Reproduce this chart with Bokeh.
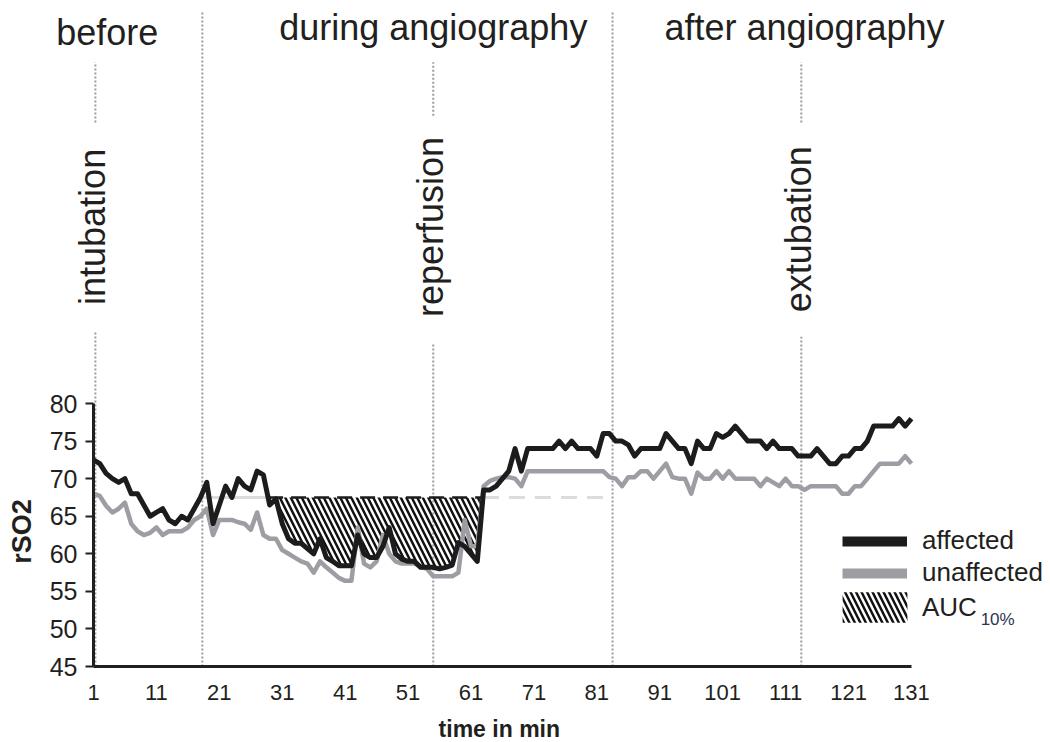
import numpy as np
from bokeh.plotting import figure
from bokeh.models import (Range1d, FixedTicker, ColumnDataSource, Label,
                          Legend, LegendItem)
from bokeh.embed import file_html
from bokeh.resources import INLINE

# ---------------- data ----------------
minutes = list(range(1, 132))
affected = [
    72.5, 72, 70.7, 70, 69.5, 70, 68, 68, 66.5, 65,
    65.5, 66, 64.5, 64, 65, 64.5, 66, 67.5, 69.5, 64,
    66.5, 69, 67.5, 70, 69, 68.5, 71, 70.5, 66.5, 67.3,
    64, 62, 61.4, 61.4, 60.7, 60, 62, 59.5, 59, 58.4,
    58.4, 58.4, 62.5, 60, 59.5, 59.5, 61, 63.5, 60, 59.3,
    59, 59, 58.2, 58.2, 58.2, 58, 58.2, 58.5, 61.5, 61,
    60, 59, 68.5, 68.5, 69, 70, 71, 74, 71, 74,
    74, 74, 74, 74, 75, 74, 75, 74, 74, 74,
    73, 76, 76, 75, 75, 74.5, 73, 74, 74, 74,
    74, 76, 75, 74, 74, 72, 75, 74, 74, 76,
    75.5, 76, 77, 76, 75, 75, 75, 74, 75, 74,
    74, 74, 73, 73, 73, 74, 73, 72, 72, 73,
    73, 74, 74, 75, 77, 77, 77, 77, 78, 77, 78,
]
unaffected = [
    68, 67.7, 66.4, 65.5, 66, 66.8, 64, 63, 62.5, 62.8,
    63.5, 62.5, 63, 63, 63, 63.5, 64.5, 65, 66, 62.5,
    64.5, 64.5, 64.5, 64.2, 64, 63.2, 65.5, 62.5, 62, 62,
    60.5, 60, 59.5, 59, 58.7, 57.5, 59, 58.2, 57.5, 56.8,
    56.4, 56.4, 63.5, 58.7, 58.2, 59, 62.5, 60, 59, 58.7,
    58.7, 58.7, 58.3, 58, 57, 57, 57, 57, 57.5, 64.5,
    61, 61, 69, 69.7, 70, 70.2, 70.2, 70, 69, 71,
    71, 71, 71, 71, 71, 71, 71, 71, 71, 71,
    71, 71, 70.2, 70, 69, 70.2, 70.2, 71, 71, 70,
    71, 72, 70.2, 70, 70, 68, 70.8, 70, 70, 71,
    70, 71, 70, 70, 70, 70, 69, 70, 69.5, 69,
    70, 69, 69, 68.5, 69, 69, 69, 69, 69, 68,
    68, 69, 69, 70, 71, 72, 72, 72, 72, 73, 72,
]
baseline = 67.5                 # AUC10% threshold
baseline_start, baseline_end = 18.3, 83.5
auc_window = (28, 63)
phase_bounds = [18.3, 83.5]
phase_labels = ["before", "during angiography", "after angiography"]
phase_label_x = [3.2, 55.0, 114.0]
phase_label_y = [129.4, 130.1, 130.1]
event_labels = ["intubation", "reperfusion", "extubation"]
event_x = [1.3, 55.0, 113.5]
event_label_y = [103.5, 103.5, 103.2]
event_lower_end = [89.7, 88.1, 88.9]
event_upper_start = [117.4, 118.3, 117.4]
event_upper_end = 125.4
x_ticks = list(range(1, 132, 10))
y_ticks = list(range(45, 81, 5))
x_title, y_title = "time in min", "rSO2"
legend_labels = ["affected", "unaffected", "AUC", "10%"]

BLACK = "#1c1c1c"
GRAY = "#9c9ea3"
LIGHT = "#dcdcdc"
DOT = "#9a9ca2"
TXT = "#231f20"
FONT = "Liberation Sans"

# hatched area between affected curve and threshold
hx, hy = [], []
for i in range(len(minutes) - 1):
    x0, x1 = minutes[i], minutes[i + 1]
    y0, y1 = affected[i], affected[i + 1]
    if x1 < auc_window[0] or x0 > auc_window[1]:
        continue
    hx.append(x0); hy.append(min(y0, baseline))
    if (y0 - baseline) * (y1 - baseline) < 0:
        t = (baseline - y0) / (y1 - y0)
        hx.append(x0 + t * (x1 - x0)); hy.append(baseline)
hx.append(minutes[auc_window[1] - 1]); hy.append(min(affected[auc_window[1] - 1], baseline))
cross = [x for x, y in zip(hx, hy) if y == baseline and x != int(x)]
auc_start, auc_end = cross[0], cross[-1]

# ---------------- figure ----------------
# the frame covers the whole canvas; axes are pinned at x=1 / y=45
W, H = 1050, 742
p = figure(width=W, height=H, x_range=Range1d(-13.78, 153.1), y_range=Range1d(34.89, 133.63),
           output_backend="svg", toolbar_location=None,
           min_border_left=0, min_border_right=0, min_border_top=0, min_border_bottom=0)
p.xgrid.visible = False
p.ygrid.visible = False
p.outline_line_color = None
p.background_fill_color = "white"

# dotted phase / event lines
p.segment(x0=phase_bounds, y0=[45] * 2, x1=phase_bounds, y1=[132.3] * 2,
          line_color=DOT, line_width=2, line_dash="2 2")
p.segment(x0=event_x, y0=[45] * 3, x1=event_x, y1=event_lower_end,
          line_color=DOT, line_width=2, line_dash="2 2")
p.segment(x0=event_x, y0=event_upper_start, x1=event_x, y1=[event_upper_end] * 3,
          line_color=DOT, line_width=2, line_dash="2 2")

# baseline
p.line([baseline_start, auc_start], [baseline, baseline], line_color=LIGHT, line_width=3)
p.line([auc_end, baseline_end], [baseline, baseline], line_color=LIGHT, line_width=3,
       line_dash="16 10")

hatch = p.varea(x=hx, y1=hy, y2=[baseline] * len(hx), fill_color=None,
                hatch_pattern="\\", hatch_color="#111111", hatch_weight=2.5, hatch_scale=11)

src = ColumnDataSource(dict(t=minutes, a=affected, u=unaffected))
p.line("t", "u", source=src, line_color=GRAY, line_width=4.5, line_join="round")
p.line("t", "a", source=src, line_color=BLACK, line_width=5, line_join="round")
p.line([auc_start, auc_end], [baseline, baseline], line_color=BLACK, line_width=2.5,
       line_dash="15 8")

# labels
for t, x, y in zip(phase_labels, phase_label_x, phase_label_y):
    p.add_layout(Label(x=x, y=y, text=t, text_align="center", text_baseline="middle",
                       text_font=FONT, text_font_size="36px", text_color=TXT))
for t, x, y in zip(event_labels, event_x, event_label_y):
    p.add_layout(Label(x=x, y=y, text=t, angle=np.pi / 2, text_align="center",
                       text_baseline="middle", x_offset=-3,
                       text_font=FONT, text_font_size="36px", text_color=TXT))
p.add_layout(Label(x=65.5, y=36.75, text=x_title, text_align="center",
                   text_baseline="middle", text_font=FONT, text_font_size="23px",
                   text_font_style="bold", text_color=TXT))
p.add_layout(Label(x=-10.4, y=62.97, text=y_title, angle=np.pi / 2, text_align="center",
                   text_baseline="middle", text_font=FONT, text_font_size="27px",
                   text_font_style="bold", text_color=TXT))

# axes
xa = p.xaxis[0]
xa.fixed_location = 45
xa.ticker = FixedTicker(ticks=x_ticks)
xa.bounds = (1, 131)
xa.axis_line_width = 3
xa.axis_line_color = TXT
xa.major_tick_line_color = None
xa.minor_tick_line_color = None
xa.major_tick_out = 0
xa.major_tick_in = 0
xa.major_label_text_font = FONT
xa.major_label_text_font_size = "22px"
xa.major_label_text_color = TXT
xa.major_label_standoff = 18

ya = p.yaxis[0]
ya.fixed_location = 1
ya.ticker = FixedTicker(ticks=y_ticks)
ya.bounds = (45, 80)
ya.axis_line_width = 3
ya.axis_line_color = TXT
ya.major_tick_line_color = TXT
ya.major_tick_line_width = 2
ya.major_tick_out = 8
ya.major_tick_in = 0
ya.minor_tick_line_color = None
ya.major_label_text_font = FONT
ya.major_label_text_font_size = "25px"
ya.major_label_text_color = TXT
ya.major_label_standoff = 8

# legend (dummy renderers carry the thicker legend strokes)
leg_a = p.line([np.nan], [np.nan], line_color=BLACK, line_width=10)
leg_u = p.line([np.nan], [np.nan], line_color=GRAY, line_width=10)
legend1 = Legend(items=[LegendItem(label=legend_labels[0], renderers=[leg_a]),
                        LegendItem(label=legend_labels[1], renderers=[leg_u])],
                 location=(842, 154), glyph_width=65, glyph_height=30, label_height=30,
                 label_standoff=15, spacing=1, padding=0, margin=0,
                 border_line_color=None, background_fill_alpha=0,
                 label_text_font=FONT, label_text_font_size="26px", label_text_color=TXT)
legend2 = Legend(items=[LegendItem(label=legend_labels[2], renderers=[hatch])],
                 location=(834, 116), glyph_width=81, glyph_height=38, label_height=30,
                 label_standoff=7, spacing=0, padding=0, margin=0,
                 border_line_color=None, background_fill_alpha=0,
                 label_text_font=FONT, label_text_font_size="26px", label_text_color=TXT)
p.add_layout(legend1)
p.add_layout(legend2)
p.add_layout(Label(x=142.0, y=51.25, text=legend_labels[3], text_align="left",
                   text_baseline="middle", text_font=FONT, text_font_size="17px",
                   text_color="#2e3450"))

open("out.html", "w").write(file_html(p, INLINE))
